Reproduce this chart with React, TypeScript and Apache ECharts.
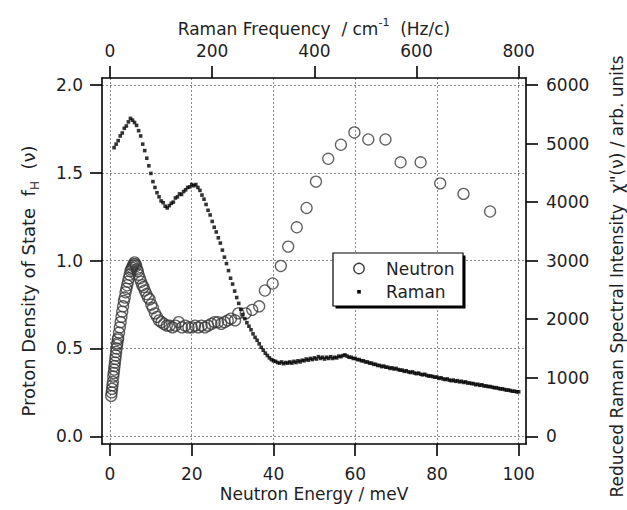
import React, { useEffect, useRef } from "react";
import * as echarts from "echarts";

const energyTicks = [0, 20, 40, 60, 80, 100];
const ramanFreqTicks = [0, 200, 400, 600, 800];
const dosTicks = [0, 0.5, 1.0, 1.5, 2.0];
const ramanIntTicks = [0, 1000, 2000, 3000, 4000, 5000, 6000];

// Neutron: [energy meV, proton DOS]
const neutronPoints: number[][] = [
  [0.3, 0.23], [0.4, 0.25], [0.5, 0.27], [0.6, 0.29], [0.7, 0.31], [0.8, 0.34], [0.9, 0.36], [1.0, 0.38],
  [1.1, 0.40], [1.2, 0.42], [1.3, 0.44], [1.4, 0.46], [1.5, 0.48], [1.6, 0.50], [1.7, 0.52], [1.8, 0.53],
  [1.9, 0.55], [2.0, 0.56], [2.2, 0.59], [2.4, 0.62], [2.6, 0.65], [2.8, 0.68], [3.0, 0.71], [3.2, 0.74],
  [3.4, 0.77], [3.6, 0.79], [3.8, 0.82], [4.0, 0.84], [4.2, 0.86], [4.4, 0.88], [4.6, 0.90], [4.8, 0.92],
  [5.0, 0.94], [5.2, 0.95], [5.4, 0.96], [5.6, 0.97], [5.8, 0.98], [6.0, 0.99], [6.2, 0.98], [6.4, 0.97],
  [6.6, 0.95], [6.8, 0.94], [7.0, 0.92], [7.3, 0.90], [7.6, 0.88], [7.9, 0.86], [8.2, 0.85], [8.5, 0.83],
  [8.9, 0.81], [9.3, 0.79], [9.7, 0.78], [10.1, 0.75], [10.5, 0.73], [11.0, 0.70], [11.5, 0.68], [12.0, 0.66],
  [12.6, 0.65], [13.2, 0.64], [13.9, 0.63], [14.6, 0.63], [15.3, 0.62], [16.0, 0.63], [16.8, 0.65], [17.6, 0.62],
  [18.4, 0.63], [19.2, 0.62], [20.0, 0.62], [20.8, 0.63], [21.6, 0.62], [22.4, 0.63], [23.2, 0.62], [24.0, 0.63],
  [24.8, 0.64], [25.6, 0.65], [26.4, 0.65], [27.2, 0.64], [28.0, 0.65], [28.8, 0.66], [29.6, 0.67], [30.6, 0.66],
  [31.4, 0.70], [33.2, 0.70], [34.8, 0.72], [36.5, 0.74], [37.9, 0.83], [39.8, 0.87], [41.8, 0.97], [43.6, 1.08],
  [45.7, 1.19], [48.1, 1.30], [50.4, 1.45], [53.4, 1.58], [56.5, 1.66], [59.8, 1.73], [63.2, 1.69], [67.4, 1.69],
  [71.1, 1.56], [76.0, 1.56], [80.8, 1.44], [86.5, 1.38], [93.0, 1.28],
];

// Raman: [energy meV, reduced intensity]
const ramanPoints: number[][] = [
  [1.0, 4930], [1.5, 4990], [2.0, 5050], [2.5, 5130], [3.0, 5180], [3.5, 5260], [4.0, 5300], [4.5, 5370],
  [5.0, 5430], [5.5, 5400], [6.0, 5360], [6.5, 5310], [7.0, 5220], [7.5, 5130], [8.0, 4990], [8.5, 4880],
  [9.0, 4750], [9.5, 4620], [10.0, 4490], [10.5, 4350], [11.0, 4250], [11.5, 4160], [12.0, 4090], [12.5, 4020],
  [13.0, 3990], [13.5, 3930], [14.0, 3900], [14.5, 3940], [15.0, 3980], [15.5, 4000], [16.0, 4070], [16.5, 4090],
  [17.0, 4140], [17.5, 4130], [18.0, 4180], [18.5, 4210], [19.0, 4250], [19.5, 4260], [20.0, 4300], [20.5, 4280],
  [21.0, 4300], [21.5, 4250], [22.0, 4200], [22.5, 4120], [23.0, 4050], [23.5, 3960], [24.0, 3860], [24.5, 3780],
  [25.0, 3670], [25.5, 3570], [26.0, 3490], [26.5, 3390], [27.0, 3300], [27.5, 3180], [28.0, 3060], [28.5, 2950],
  [29.0, 2830], [29.5, 2700], [30.0, 2600], [30.5, 2480], [31.0, 2370], [31.5, 2270], [32.0, 2170], [32.5, 2080],
  [33.0, 2010], [33.5, 1940], [34.0, 1880], [34.5, 1820], [35.0, 1750], [35.5, 1690], [36.0, 1640], [36.5, 1580],
  [37.0, 1520], [37.5, 1470], [38.0, 1420], [38.5, 1380], [39.0, 1340], [39.5, 1310], [40.0, 1290], [40.5, 1280],
  [41.0, 1260], [41.5, 1250], [42.0, 1270], [42.5, 1240], [43.0, 1260], [43.5, 1250], [44.0, 1270], [44.5, 1250],
  [45.0, 1280], [45.5, 1260], [46.0, 1290], [46.5, 1270], [47.0, 1300], [47.5, 1290], [48.0, 1320], [48.5, 1300],
  [49.0, 1330], [49.5, 1310], [50.0, 1340], [50.5, 1320], [51.0, 1360], [51.5, 1330], [52.0, 1350], [52.5, 1320],
  [53.0, 1350], [53.5, 1330], [54.0, 1360], [54.5, 1330], [55.0, 1350], [55.5, 1340], [56.0, 1370], [56.5, 1360],
  [57.0, 1380], [57.5, 1390], [58.0, 1370], [58.5, 1350], [59.0, 1350], [59.5, 1330], [60.0, 1330], [60.5, 1310],
  [61.0, 1310], [61.5, 1290], [62.0, 1290], [62.5, 1270], [63.0, 1270], [63.5, 1250], [64.0, 1250], [64.5, 1230],
  [65.0, 1230], [65.5, 1210], [66.0, 1210], [66.5, 1190], [67.0, 1200], [67.5, 1180], [68.0, 1180], [68.5, 1160],
  [69.0, 1170], [69.5, 1150], [70.0, 1160], [70.5, 1140], [71.0, 1130], [71.5, 1130], [72.0, 1110], [72.5, 1120],
  [73.0, 1100], [73.5, 1090], [74.0, 1100], [74.5, 1080], [75.0, 1070], [75.5, 1080], [76.0, 1060], [76.5, 1050],
  [77.0, 1060], [77.5, 1040], [78.0, 1030], [78.5, 1030], [79.0, 1020], [79.5, 1010], [80.0, 1010], [80.5, 990],
  [81.0, 1000], [81.5, 980], [82.0, 970], [82.5, 980], [83.0, 960], [83.5, 950], [84.0, 960], [84.5, 940],
  [85.0, 950], [85.5, 930], [86.0, 940], [86.5, 920], [87.0, 930], [87.5, 910], [88.0, 910], [88.5, 900],
  [89.0, 900], [89.5, 880], [90.0, 890], [90.5, 870], [91.0, 880], [91.5, 860], [92.0, 860], [92.5, 850],
  [93.0, 850], [93.5, 840], [94.0, 830], [94.5, 830], [95.0, 820], [95.5, 810], [96.0, 810], [96.5, 800],
  [97.0, 790], [97.5, 790], [98.0, 780], [98.5, 770], [99.0, 770], [99.5, 760], [100.0, 760],
];

const FONT = "DejaVu Sans";
const INK = "#1e1e1e";

export default function App() {
  const ref = useRef<HTMLDivElement>(null);
  useEffect(() => {
    if (!ref.current) return;
    const chart = echarts.init(ref.current, undefined, { renderer: "svg" });
    const lineStyle = { color: "#000", width: 1.6 };
    const grid = { type: [2, 2], color: "#8a8a8a", width: 1 };
    const label = { fontFamily: FONT, fontSize: 17, color: INK };
    const plain = (v: number) => String(v);
    chart.setOption({
      animation: false,
      backgroundColor: "#fff",
      textStyle: { fontFamily: FONT },
      grid: { left: 102, top: 78, width: 424, height: 366, containLabel: false },
      xAxis: [
        {
          type: "value", position: "bottom", min: -1.96, max: 101.79,
          axisLine: { show: true, onZero: false, lineStyle },
          axisTick: { show: true, inside: false, length: 12, lineStyle, customValues: energyTicks },
          axisLabel: { ...label, margin: 21, customValues: energyTicks, formatter: plain },
          splitLine: { show: true, lineStyle: grid },
        },
        {
          type: "value", position: "top", min: -15.68, max: 814.32,
          axisLine: { show: true, onZero: false, lineStyle },
          axisTick: { show: true, inside: false, length: 12, lineStyle, customValues: ramanFreqTicks },
          axisLabel: { ...label, margin: 19, customValues: ramanFreqTicks, formatter: plain },
          splitLine: { show: false },
        },
      ],
      yAxis: [
        {
          type: "value", position: "left", min: -0.0438, max: 2.0399,
          axisLine: { show: true, onZero: false, lineStyle },
          axisTick: { show: true, inside: false, length: 12, lineStyle, customValues: dosTicks },
          axisLabel: { ...label, margin: 19, customValues: dosTicks, formatter: (v: number) => v.toFixed(1) },
          splitLine: { show: true, lineStyle: grid },
        },
        {
          type: "value", position: "right", min: -131.4, max: 6119.7,
          axisLine: { show: true, onZero: false, lineStyle },
          axisTick: { show: true, inside: false, length: 12, lineStyle, customValues: ramanIntTicks },
          axisLabel: { ...label, margin: 20, customValues: ramanIntTicks, formatter: plain },
          splitLine: { show: false },
        },
      ],
      series: [
        {
          name: "Neutron", type: "scatter", xAxisIndex: 0, yAxisIndex: 0,
          symbol: "circle", symbolSize: 11,
          itemStyle: { color: "rgba(0,0,0,0)", borderColor: "#3a3a3a", borderWidth: 1.3 },
          data: neutronPoints, z: 2,
        },
        {
          name: "Raman", type: "scatter", xAxisIndex: 0, yAxisIndex: 1,
          symbol: "rect", symbolSize: 3.6,
          itemStyle: { color: "#000" },
          data: ramanPoints, z: 3,
        },
      ],
      graphic: [
        {
          type: "text", x: 314, y: 29, z: 10,
          style: {
            text: "{a|Raman Frequency  / cm}{s|-1}{a|  (Hz/c)}",
            align: "center", verticalAlign: "middle", fill: INK,
            rich: {
              a: { fontFamily: FONT, fontSize: 17, lineHeight: 24, fill: INK },
              s: { fontFamily: FONT, fontSize: 11, lineHeight: 11, verticalAlign: "top", fill: INK },
            },
          },
        },
        {
          type: "text", x: 314, y: 494, z: 10,
          style: { text: "Neutron Energy / meV", fontFamily: FONT, fontSize: 17, fill: INK, align: "center", verticalAlign: "middle" },
        },
        {
          type: "text", x: 28.5, y: 281, rotation: Math.PI / 2, z: 10,
          style: {
            text: "{a|Proton Density of State  f}{b|H}{a|  (ν)}",
            align: "center", verticalAlign: "middle", fill: INK,
            rich: {
              a: { fontFamily: FONT, fontSize: 18, lineHeight: 24, fill: INK },
              b: { fontFamily: FONT, fontSize: 12, lineHeight: 12, verticalAlign: "bottom", fill: INK },
            },
          },
        },
        {
          type: "text", x: 617, y: 276.5, rotation: Math.PI / 2, z: 10,
          style: {
            text: "Reduced Raman Spectral Intensity  χ\"(ν) / arb. units",
            fontFamily: FONT, fontSize: 17, fill: INK, align: "center", verticalAlign: "middle",
          },
        },
        // legend box with drop shadow
        { type: "rect", z: 20, shape: { x: 335.5, y: 255.5, width: 130, height: 53 }, style: { fill: "#000" } },
        { type: "rect", z: 21, shape: { x: 333, y: 253, width: 130, height: 53 }, style: { fill: "#fff", stroke: "#000", lineWidth: 1.2 } },
        { type: "circle", z: 22, shape: { cx: 359, cy: 268.5, r: 5.2 }, style: { fill: "none", stroke: "#3a3a3a", lineWidth: 1.3 } },
        { type: "rect", z: 22, shape: { x: 357.2, y: 290, width: 3.6, height: 3.6 }, style: { fill: "#000" } },
        { type: "text", z: 22, x: 386, y: 268.5, style: { text: "Neutron", fontFamily: FONT, fontSize: 17, fill: INK, align: "left", verticalAlign: "middle" } },
        { type: "text", z: 22, x: 386, y: 292, style: { text: "Raman", fontFamily: FONT, fontSize: 17, fill: INK, align: "left", verticalAlign: "middle" } },
      ],
    });
    return () => chart.dispose();
  }, []);
  return <div ref={ref} style={{ position: "fixed", left: 0, top: 0, width: 627, height: 510, background: "#fff" }} />;
}
